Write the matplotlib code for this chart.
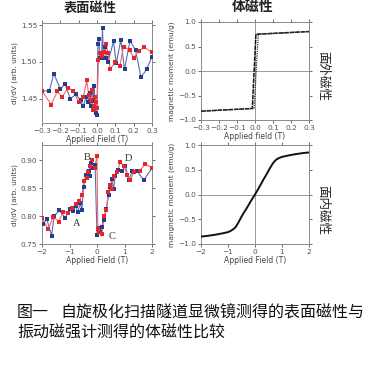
import matplotlib
matplotlib.use("Agg")
import matplotlib.pyplot as plt

plt.rcParams['font.family'] = ['DejaVu Sans', 'Noto Sans CJK SC']

# ---------------- data ----------------
# top-left: surface dI/dV vs field (small field range)
tl_blue_x = [-0.30, -0.26, -0.235, -0.20, -0.175, -0.145, -0.115, -0.09, -0.075, -0.06,
             -0.05, -0.04, -0.035, -0.025, -0.02, -0.015, -0.01, -0.005, 0.0,
             0.005, 0.01, 0.015, 0.025, 0.03, 0.035, 0.045, 0.05, 0.06, 0.09,
             0.105, 0.13, 0.15, 0.18, 0.21, 0.24, 0.27, 0.30]
tl_blue_y = [1.460, 1.461, 1.484, 1.463, 1.470, 1.450, 1.456, 1.448, 1.440, 1.452,
             1.445, 1.458, 1.440, 1.462, 1.447, 1.467, 1.437, 1.430, 1.428,
             1.525, 1.531, 1.505, 1.510, 1.546, 1.505, 1.520, 1.505, 1.500, 1.528,
             1.498, 1.530, 1.490, 1.529, 1.516, 1.479, 1.490, 1.507]
tl_red_x = [-0.30, -0.25, -0.216, -0.19, -0.158, -0.132, -0.10, -0.074, -0.056, -0.045,
            -0.035, -0.03, -0.023, -0.015, -0.01, -0.005, 0.0,
            0.008, 0.015, 0.025, 0.04, 0.05, 0.06, 0.072, 0.10, 0.125, 0.145,
            0.178, 0.20, 0.227, 0.258, 0.30]
tl_red_y = [1.461, 1.442, 1.460, 1.452, 1.465, 1.461, 1.446, 1.453, 1.475, 1.455,
            1.448, 1.462, 1.435, 1.440, 1.452, 1.445, 1.438,
            1.503, 1.512, 1.508, 1.514, 1.525, 1.512, 1.490, 1.500, 1.495, 1.521,
            1.516, 1.506, 1.515, 1.520, 1.513]

# bottom-left: surface dI/dV vs field (large field range)
bl_blue_x = [-1.95, -1.83, -1.65, -1.56, -1.37, -1.16, -0.98, -0.86, -0.78, -0.70,
             -0.61, -0.55, -0.49, -0.41, -0.35, -0.30, -0.26, -0.22, -0.15, -0.07,
             0.0, 0.07, 0.12, 0.18, 0.24, 0.34, 0.42, 0.48, 0.54, 0.60, 0.66,
             0.78, 0.90, 1.03, 1.15, 1.29, 1.45, 1.70, 2.0]
bl_blue_y = [0.786, 0.795, 0.765, 0.800, 0.810, 0.797, 0.813, 0.809, 0.818, 0.807,
             0.823, 0.810, 0.852, 0.874, 0.868, 0.880, 0.872, 0.894, 0.886, 0.892,
             0.766, 0.779, 0.772, 0.781, 0.793, 0.813, 0.837, 0.852, 0.867, 0.848, 0.871,
             0.883, 0.880, 0.890, 0.864, 0.881, 0.881, 0.864, 0.886]
bl_red_x = [-2.0, -1.77, -1.59, -1.40, -1.22, -1.04, -0.92, -0.76, -0.64, -0.55,
            -0.47, -0.37, -0.31, -0.25, -0.19, -0.09, 0.0, 0.03, 0.09, 0.18,
            0.26, 0.34, 0.41, 0.48, 0.54, 0.60, 0.72, 0.85, 0.99, 1.09, 1.21,
            1.33, 1.55, 1.76, 2.0]
bl_red_y = [0.797, 0.776, 0.799, 0.790, 0.808, 0.806, 0.815, 0.821, 0.827, 0.838,
            0.862, 0.868, 0.879, 0.889, 0.901, 0.886, 0.907, 0.777, 0.772, 0.768,
            0.800, 0.810, 0.843, 0.855, 0.848, 0.872, 0.878, 0.896, 0.889, 0.874, 0.864,
            0.878, 0.881, 0.893, 0.886]

# top-right: bulk out-of-plane hysteresis
tr_up_x = [-0.30, -0.015, 0.005, 0.30]
tr_up_y = [-0.82, -0.765, 0.75, 0.805]
tr_down_x = [0.30, 0.018, -0.005, -0.30]
tr_down_y = [0.805, 0.75, -0.765, -0.82]

# bottom-right: bulk in-plane magnetization
br_x = [-2.0, -1.75, -1.5, -1.25, -1.0, -0.9, -0.8, -0.72, -0.64, -0.55, -0.45, -0.3,
        -0.15, 0.0, 0.15, 0.3, 0.45, 0.55, 0.64, 0.72, 0.8, 0.9, 1.0, 1.25, 1.5,
        1.75, 2.0]
br_y = [-0.85, -0.835, -0.815, -0.79, -0.76, -0.735, -0.70, -0.66, -0.59, -0.50,
        -0.40, -0.27, -0.13, 0.0, 0.14, 0.29, 0.43, 0.53, 0.61, 0.67, 0.71, 0.74,
        0.76, 0.79, 0.815, 0.835, 0.85]

letters = ['A', 'B', 'C', 'D']
letter_x = [-0.74, -0.35, 0.54, 1.15]
letter_y = [0.786, 0.905, 0.764, 0.903]

titles = ['表面磁性', '体磁性']
side_labels = ['面外磁性', '面内磁性']
caption1a = '图一'
caption1b = '自旋极化扫描隧道显微镜测得的表面磁性与'
caption2 = '振动磁强计测得的体磁性比较'

# ---------------- figure ----------------
W, H = 390, 368
fig = plt.figure(figsize=(W / 100, H / 100), dpi=100)
fig.patch.set_facecolor('white')

def box(l, t, r, b):
    return [l / W, 1 - b / H, (r - l) / W, (b - t) / H]

ax_tl = fig.add_axes(box(42, 23, 152, 123))
ax_tr = fig.add_axes(box(201, 22, 309, 120))
ax_bl = fig.add_axes(box(42, 145, 152, 244))
ax_br = fig.add_axes(box(201, 145, 309, 244))

BLUE = '#283c8e'
BLUE_L = '#5a6cb4'
RED = '#e0282c'
RED_L = '#ec6a6a'
TICKC = '#555555'

def style(ax, xlabel, ylabel):
    for s in ax.spines.values():
        s.set_color('#8a8a8a')
        s.set_linewidth(0.7)
    ax.tick_params(labelsize=5.3, colors=TICKC, width=0.6, length=2, pad=1.5, direction='out')
    ax.tick_params(top=True, right=True)
    ax.set_xlabel(xlabel, fontsize=5.5, color='#444444', labelpad=1)
    ax.set_ylabel(ylabel, fontsize=5.3, color='#444444', labelpad=2)

def dots(ax, x, y, c, lc):
    ax.plot(x, y, '-', color=lc, lw=0.8, zorder=2)
    ax.plot(x, y, 's', color=c, ms=2.7, mec=c, mew=0, zorder=3)

# top-left
dots(ax_tl, tl_blue_x, tl_blue_y, BLUE, BLUE_L)
dots(ax_tl, tl_red_x, tl_red_y, RED, RED_L)
ax_tl.set_xlim(-0.3, 0.3)
ax_tl.set_ylim(1.417, 1.553)
ax_tl.set_xticks([-0.3, -0.2, -0.1, 0.0, 0.1, 0.2, 0.3])
ax_tl.set_yticks([1.45, 1.50, 1.55])
ax_tl.set_yticklabels(['1.45', '1.50', '1.55'])
style(ax_tl, 'Applied Field (T)', 'dI/dV (arb. units)')

# bottom-left
dots(ax_bl, bl_blue_x, bl_blue_y, BLUE, BLUE_L)
dots(ax_bl, bl_red_x, bl_red_y, RED, RED_L)
ax_bl.set_xlim(-2, 2)
ax_bl.set_ylim(0.75, 0.927)
ax_bl.set_xticks([-2, -1, 0, 1, 2])
ax_bl.set_yticks([0.75, 0.80, 0.85, 0.90])
ax_bl.set_yticklabels(['0.75', '0.80', '0.85', '0.90'])
style(ax_bl, 'Applied Field (T)', 'dI/dV (arb. units)')
for t, lx, ly in zip(letters, letter_x, letter_y):
    ax_bl.text(lx, ly, t, fontsize=7.5, family='Liberation Serif', color='#333333',
               ha='center', va='center', zorder=5)

# top-right
ax_tr.axhline(0, color='#8a8a8a', lw=0.6, zorder=1)
ax_tr.axvline(0, color='#8a8a8a', lw=0.6, zorder=1)
ax_tr.plot(tr_up_x, tr_up_y, color='#111111', lw=1.1, ls=(0, (3, 0.6)), zorder=3)
ax_tr.plot(tr_down_x, tr_down_y, color='#333333', lw=0.9, ls=(0, (1, 0.8)), zorder=3)
ax_tr.set_xlim(-0.3, 0.3)
ax_tr.set_ylim(-1.0, 1.0)
ax_tr.set_xticks([-0.3, -0.2, -0.1, 0.0, 0.1, 0.2, 0.3])
ax_tr.set_yticks([-1.0, -0.5, 0.0, 0.5, 1.0])
style(ax_tr, 'Applied field (T)', 'magnetic moment (emu/g)')

# bottom-right
ax_br.axhline(0, color='#8a8a8a', lw=0.6, zorder=1)
ax_br.axvline(0, color='#8a8a8a', lw=0.6, zorder=1)
ax_br.plot(br_x, br_y, color='#111111', lw=1.4, zorder=3, solid_joinstyle='round')
ax_br.set_xlim(-2, 2)
ax_br.set_ylim(-1.0, 1.0)
ax_br.set_xticks([-2, -1, 0, 1, 2])
ax_br.set_yticks([-1.0, -0.5, 0.0, 0.5, 1.0])
style(ax_br, 'Applied Field (T)', 'mangnetic moment (emu/g)')

cjk = ['Noto Sans CJK SC', 'DejaVu Sans']
fig.text(90 / W, 1 - 8 / H, titles[0], fontsize=9.5, family=cjk, weight='bold',
         ha='center', va='center', color='#222222')
fig.text(253 / W, 1 - 7 / H, titles[1], fontsize=10, family=cjk, weight='bold',
         ha='center', va='center', color='#222222')
fig.text(323 / W, 1 - 76 / H, side_labels[0], fontsize=9, family=cjk,
         rotation=-90, ha='center', va='center', color='#222222')
fig.text(323 / W, 1 - 210 / H, side_labels[1], fontsize=9, family=cjk,
         rotation=-90, ha='center', va='center', color='#222222')

fig.text(17 / W, 1 - 313 / H, caption1a, fontsize=11.5, family=cjk,
         ha='left', va='center', color='#111111')
fig.text(60 / W, 1 - 313 / H, caption1b, fontsize=11.5, family=cjk,
         ha='left', va='center', color='#111111')
fig.text(17 / W, 1 - 333 / H, caption2, fontsize=11.5, family=cjk,
         ha='left', va='center', color='#111111')

fig.savefig('out.png', dpi=100, facecolor='white')
